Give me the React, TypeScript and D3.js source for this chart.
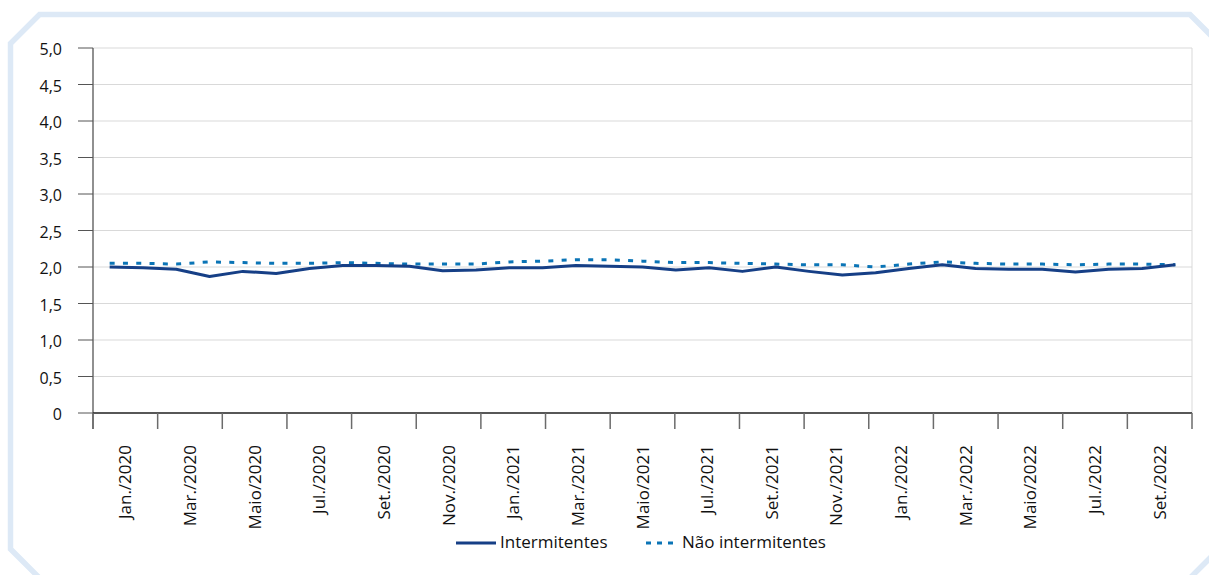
import React from "react";
import * as d3 from "d3";

// monthly series, Jan./2020 .. Set./2022
const months = [
  "Jan./2020", "Fev./2020", "Mar./2020", "Abr./2020", "Maio/2020", "Jun./2020",
  "Jul./2020", "Ago./2020", "Set./2020", "Out./2020", "Nov./2020", "Dez./2020",
  "Jan./2021", "Fev./2021", "Mar./2021", "Abr./2021", "Maio/2021", "Jun./2021",
  "Jul./2021", "Ago./2021", "Set./2021", "Out./2021", "Nov./2021", "Dez./2021",
  "Jan./2022", "Fev./2022", "Mar./2022", "Abr./2022", "Maio/2022", "Jun./2022",
  "Jul./2022", "Ago./2022", "Set./2022",
];

const tickLabels = [
  "Jan./2020", "Mar./2020", "Maio/2020", "Jul./2020", "Set./2020", "Nov./2020",
  "Jan./2021", "Mar./2021", "Maio/2021", "Jul./2021", "Set./2021", "Nov./2021",
  "Jan./2022", "Mar./2022", "Maio/2022", "Jul./2022", "Set./2022",
];

const intermitentes = [
  2.0, 1.99, 1.97, 1.87, 1.94, 1.91, 1.98, 2.02, 2.02, 2.01, 1.95, 1.96,
  1.99, 1.99, 2.02, 2.01, 2.0, 1.96, 1.99, 1.94, 2.0, 1.94, 1.89, 1.92,
  1.98, 2.03, 1.98, 1.97, 1.97, 1.93, 1.97, 1.98, 2.03,
];

const naoIntermitentes = [
  2.05, 2.05, 2.04, 2.07, 2.06, 2.05, 2.05, 2.06, 2.05, 2.04, 2.04, 2.04,
  2.07, 2.08, 2.1, 2.1, 2.08, 2.06, 2.06, 2.05, 2.04, 2.03, 2.03, 2.0,
  2.04, 2.07, 2.05, 2.04, 2.04, 2.03, 2.04, 2.04, 2.03,
];

const yTicks = [0, 0.5, 1, 1.5, 2, 2.5, 3, 3.5, 4, 4.5, 5];

const W = 1209;
const H = 575;
const margin = { left: 93, right: 1192, top: 48, bottom: 413 };
const FONT = "'Open Sans', 'Noto Sans', sans-serif";
const SOLID = "#163f86";
const DASHED = "#0a74b6";
const TEXT = "#111";

const fmt = (v: number) => (v === 0 ? "0" : v.toFixed(1).replace(".", ","));

export default function App() {
  const x = d3
    .scalePoint<string>()
    .domain(months)
    .range([margin.left, margin.right])
    .padding(0.5);

  const xTick = d3
    .scaleBand<string>()
    .domain(tickLabels)
    .range([margin.left, margin.right]);

  const y = d3.scaleLinear().domain([0, 5]).range([margin.bottom, margin.top]);

  const line = d3
    .line<number>()
    .x((_, i) => x(months[i]) as number)
    .y((d) => y(d));

  const tickEdges = [
    ...tickLabels.map((t) => xTick(t) as number),
    margin.right,
  ];

  const c = 29; // frame chamfer
  const frame = [
    [10.5, 14.5 + c],
    [10.5 + c, 14.5],
    [1219 - c, 14.5],
    [1219, 14.5 + c],
    [1219, 578 - c],
    [1219 - c, 578],
    [10.5 + c, 578],
    [10.5, 578 - c],
  ];

  return (
    <svg
      width={W}
      height={H}
      style={{ position: "absolute", left: 0, top: 0, display: "block" }}
      fontFamily={FONT}
    >
      <rect width={W} height={H} fill="#fff" />
      <polygon
        points={frame.map((p) => p.join(",")).join(" ")}
        fill="none"
        stroke="#dde9f6"
        strokeWidth={5.5}
      />

      {/* gridlines */}
      {yTicks.map((t) => (
        <line
          key={"g" + t}
          x1={margin.left}
          x2={margin.right}
          y1={y(t)}
          y2={y(t)}
          stroke="#d9d9d9"
          strokeWidth={1}
        />
      ))}
      <line
        x1={margin.right}
        x2={margin.right}
        y1={margin.top}
        y2={margin.bottom}
        stroke="#d9d9d9"
      />

      {/* y axis */}
      <line
        x1={margin.left}
        x2={margin.left}
        y1={margin.top}
        y2={margin.bottom + 16}
        stroke="#6b6b6b"
        strokeWidth={1.5}
      />
      {yTicks.map((t) => (
        <g key={"y" + t}>
          <line
            x1={margin.left - 15}
            x2={margin.left}
            y1={y(t)}
            y2={y(t)}
            stroke="#555"
            strokeWidth={1}
          />
          <text
            x={62}
            y={y(t) + 3}
            textAnchor="end"
            fontSize={16}
            fill={TEXT}
            dominantBaseline="middle"
          >
            {fmt(t)}
          </text>
        </g>
      ))}

      {/* x axis */}
      <line
        x1={margin.left}
        x2={margin.right}
        y1={margin.bottom}
        y2={margin.bottom}
        stroke="#262626"
        strokeWidth={1.5}
      />
      {tickEdges.map((tx, i) => (
        <line
          key={"xt" + i}
          x1={tx}
          x2={tx}
          y1={margin.bottom}
          y2={margin.bottom + 16}
          stroke="#6b6b6b"
          strokeWidth={1.5}
        />
      ))}
      {tickLabels.map((t) => {
        const cx = (xTick(t) as number) + xTick.bandwidth() / 2 + 6;
        return (
          <text
            key={"xl" + t}
            transform={`translate(${cx},445) rotate(-90)`}
            textAnchor="end"
            fontSize={17}
            fill={TEXT}
          >
            {t}
          </text>
        );
      })}

      {/* series */}
      <path
        d={line(naoIntermitentes) ?? ""}
        fill="none"
        stroke={DASHED}
        strokeWidth={3}
        strokeDasharray="5,8.3"
      />
      <path
        d={line(intermitentes) ?? ""}
        fill="none"
        stroke={SOLID}
        strokeWidth={3}
        strokeLinejoin="round"
      />

      {/* legend */}
      <line x1={456} x2={496} y1={543} y2={543} stroke={SOLID} strokeWidth={3} />
      <text x={500} y={548} fontSize={17} fill={TEXT}>
        Intermitentes
      </text>
      <line
        x1={646}
        x2={678}
        y1={543}
        y2={543}
        stroke={DASHED}
        strokeWidth={3}
        strokeDasharray="5,6"
      />
      <text x={682} y={548} fontSize={17} fill={TEXT}>
        Não intermitentes
      </text>
    </svg>
  );
}
